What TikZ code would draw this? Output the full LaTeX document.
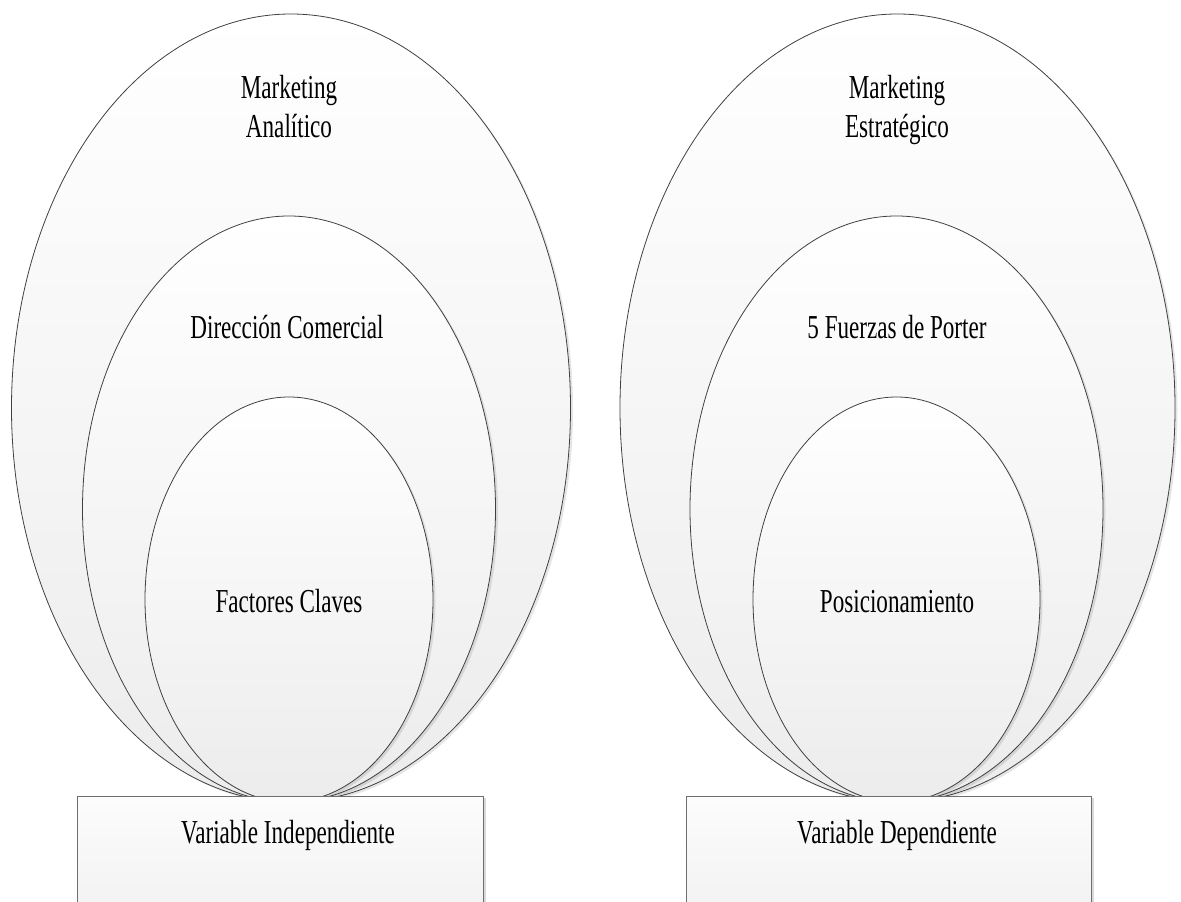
\documentclass[tikz,border=0pt]{standalone}
\usepackage{fontspec}
\setmainfont{Liberation Serif}[FakeStretch=0.69]
\usetikzlibrary{shapes.geometric,shadows}
\definecolor{edge}{HTML}{404040}
\definecolor{boxedge}{HTML}{6E6E6E}
\definecolor{fillbot}{HTML}{ECECEC}
\definecolor{boxtop}{HTML}{FCFCFC}
\definecolor{boxbot}{HTML}{F0F0F0}
\tikzset{
  oval/.style={ellipse, draw=edge, line width=0.8pt, inner sep=0pt,
    top color=white, bottom color=fillbot,
    drop shadow={shadow xshift=2.5pt, shadow yshift=-2pt, fill=black, opacity=0.10}},
  base/.style={rectangle, draw=boxedge, line width=0.8pt, inner sep=0pt,
    top color=boxtop, bottom color=boxbot,
    drop shadow={shadow xshift=3pt, shadow yshift=-2pt, fill=black, opacity=0.15}},
  lbl/.style={inner sep=0pt, anchor=base, align=center,
    font=\fontsize{33.5}{39}\selectfont}
}
\begin{document}
\begin{tikzpicture}[x=1pt,y=-1pt]
\clip (0,0) rectangle (1181,902);
\fill[white] (0,0) rectangle (1181,902);

% left group
\node[oval, minimum width=559pt, minimum height=788pt] (lo) at (291,408) {};
\node[oval, minimum width=413pt, minimum height=586pt] (lm) at (289,509) {};
\node[oval, minimum width=288pt, minimum height=405pt] (li) at (289,599.5) {};
\node[base, minimum width=406pt, minimum height=140pt] (lb) at (280,866) {};

\node[lbl] (lot1) at (289,98) {Marketing};
\node[lbl] (lot2) at (289,137) {Analítico};
\node[lbl] (lmt) at (287,338) {Dirección Comercial};
\node[lbl] (lit) at (289,612) {Factores Claves};
\node[lbl] (lbt) at (288,843) {Variable Independiente};

% right group
\node[oval, minimum width=555pt, minimum height=788pt] (ro) at (897.5,408) {};
\node[oval, minimum width=413pt, minimum height=586pt] (rm) at (896.5,509) {};
\node[oval, minimum width=287pt, minimum height=405pt] (ri) at (896.5,599.5) {};
\node[base, minimum width=405pt, minimum height=140pt] (rb) at (888.5,866) {};

\node[lbl] (rot1) at (897,98) {Marketing};
\node[lbl] (rot2) at (897,137) {Estratégico};
\node[lbl] (rmt) at (897,338) {5 Fuerzas de Porter};
\node[lbl] (rit) at (897,612) {Posicionamiento};
\node[lbl] (rbt) at (897,843) {Variable Dependiente};
\end{tikzpicture}
\end{document}
